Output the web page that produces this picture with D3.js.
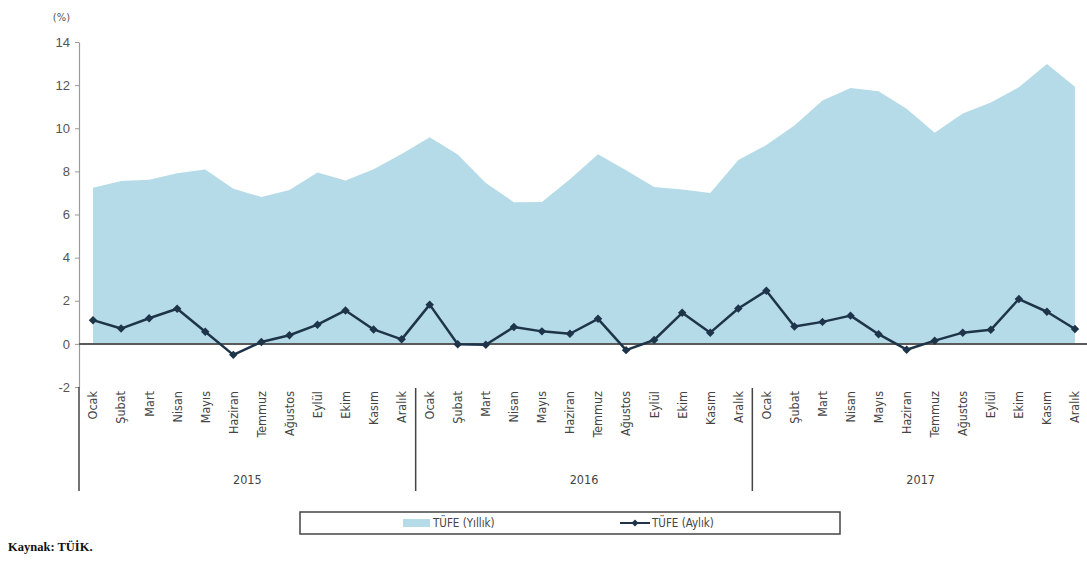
<!DOCTYPE html>
<html><head><meta charset="utf-8">
<script src="https://cdn.jsdelivr.net/npm/d3@7/dist/d3.min.js"></script>
<style>
html,body{margin:0;padding:0;background:#fff;}
svg{display:block;font-family:"DejaVu Sans Condensed","DejaVu Sans",sans-serif;}
</style></head>
<body>
<svg id="c" width="1087" height="564"></svg>
<script>
const years = ["2015", "2016", "2017"];
const months = ["Ocak","Şubat","Mart","Nisan","Mayıs","Haziran","Temmuz","Ağustos","Eylül","Ekim","Kasım","Aralık"];
const annual = [7.24,7.55,7.61,7.91,8.09,7.20,6.81,7.14,7.95,7.58,8.10,8.81,
                9.58,8.78,7.46,6.57,6.58,7.64,8.79,8.05,7.28,7.16,7.00,8.53,
                9.22,10.13,11.29,11.87,11.72,10.90,9.79,10.68,11.20,11.90,12.98,11.92];
const monthly = [1.10,0.71,1.19,1.63,0.56,-0.51,0.09,0.40,0.89,1.55,0.67,0.21,
                 1.82,-0.02,-0.04,0.78,0.58,0.47,1.16,-0.29,0.18,1.44,0.52,1.64,
                 2.46,0.81,1.02,1.31,0.45,-0.27,0.15,0.52,0.65,2.08,1.49,0.69];
const yTicks = [-2,0,2,4,6,8,10,12,14];
const seriesNames = ["TÜFE (Yıllık)", "TÜFE (Aylık)"];

const cats = [];
years.forEach(y => months.forEach(m => cats.push(y + "-" + m)));

const svg = d3.select("#c");
const x = d3.scaleBand().domain(cats).range([79, 1089]).padding(0);
const cx = d => x(d) + x.bandwidth() / 2;
const y = d3.scaleLinear().domain([-2, 14]).range([387, 42]);

// area
const area = d3.area().x((d, i) => cx(cats[i])).y0(y(0)).y1(d => y(d));
svg.append("path").datum(annual).attr("d", area).attr("fill", "#b6dbe8");

// y axis
const ya = svg.append("g").attr("transform", "translate(79,0)")
  .call(d3.axisLeft(y).tickValues(yTicks).tickFormat(d => String(d)).tickSize(4).tickPadding(5).tickSizeOuter(0));
ya.select(".domain").attr("stroke", "#9a9a9a").attr("stroke-width", 1.2);
ya.selectAll(".tick line").attr("stroke", "#9a9a9a");
ya.selectAll(".tick text").attr("fill", "#555").attr("font-size", 13);

svg.append("text").attr("x", 70).attr("y", 21).attr("text-anchor", "end")
  .attr("fill", "#555").attr("font-size", 11).text("(%)");

// zero line
svg.append("line").attr("x1", 79).attr("x2", 1087).attr("y1", y(0)).attr("y2", y(0))
  .attr("stroke", "#5a5a5a").attr("stroke-width", 2);

// monthly line
const line = d3.line().x((d, i) => cx(cats[i])).y(d => y(d));
svg.append("path").datum(monthly).attr("d", line).attr("fill", "none")
  .attr("stroke", "#1e3448").attr("stroke-width", 2.5).attr("stroke-linejoin", "round");
svg.append("g").selectAll("path").data(monthly).join("path")
  .attr("transform", (d, i) => `translate(${cx(cats[i])},${y(d)}) rotate(45)`)
  .attr("d", "M-3,-3H3V3H-3Z").attr("fill", "#1e3448");

// x labels
const xl = svg.append("g");
xl.selectAll("text").data(cats).join("text")
  .attr("transform", d => `translate(${cx(d)},391) rotate(-90)`)
  .attr("dy", "0.35em").attr("text-anchor", "end")
  .attr("fill", "#444").attr("font-size", 12.5)
  .text(d => d.split("-")[1]);

// group separators
[0, 12, 24].forEach(i => {
  svg.append("line").attr("x1", x(cats[i])).attr("x2", x(cats[i]))
    .attr("y1", i === 0 ? 387 : 388).attr("y2", 491)
    .attr("stroke", "#444").attr("stroke-width", 1.5);
});
years.forEach((yr, k) => {
  const a = x(cats[k * 12]), b = x(cats[k * 12 + 11]) + x.bandwidth();
  svg.append("text").attr("x", (a + b) / 2).attr("y", 484).attr("text-anchor", "middle")
    .attr("fill", "#444").attr("font-size", 12.5).text(yr);
});

// legend
svg.append("rect").attr("x", 300).attr("y", 512).attr("width", 540).attr("height", 22)
  .attr("fill", "#fff").attr("stroke", "#444").attr("stroke-width", 1.5);
svg.append("rect").attr("x", 403).attr("y", 519).attr("width", 27).attr("height", 8).attr("fill", "#b6dbe8");
svg.append("text").attr("x", 433).attr("y", 527).attr("fill", "#444").attr("font-size", 11.5).text(seriesNames[0]);
svg.append("line").attr("x1", 620).attr("x2", 650).attr("y1", 523).attr("y2", 523)
  .attr("stroke", "#1e3448").attr("stroke-width", 2);
svg.append("path").attr("transform", "translate(635,523) rotate(45)").attr("d", "M-2.5,-2.5H2.5V2.5H-2.5Z").attr("fill", "#1e3448");
svg.append("text").attr("x", 652).attr("y", 527).attr("fill", "#444").attr("font-size", 11.5).text(seriesNames[1]);

// source
svg.append("text").attr("x", 8).attr("y", 551).attr("font-family", "'Liberation Serif','Times New Roman',serif")
  .attr("font-weight", "bold").attr("font-size", 12.5).attr("fill", "#111").text("Kaynak: TÜİK.");
</script>
</body></html>
